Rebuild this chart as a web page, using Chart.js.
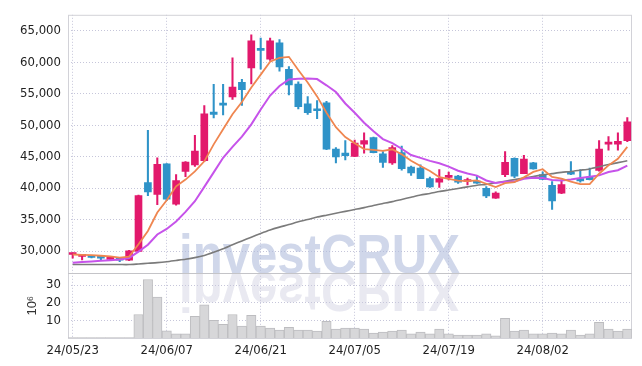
<!DOCTYPE html>
<html>
<head>
<meta charset="utf-8">
<script src="https://cdn.jsdelivr.net/npm/chart.js@4.4.1/dist/chart.umd.min.js"></script>
<style>
  html, body { margin: 0; padding: 0; background: #fff; }
</style>
</head>
<body>
<canvas id="stockChart" width="642" height="366"></canvas>
<script>
// trading days 24/05/23 .. 24/08/16
const dates = [
  '24/05/23','24/05/24','24/05/27','24/05/28','24/05/29','24/05/30','24/05/31','24/06/03','24/06/04','24/06/05',
  '24/06/07','24/06/10','24/06/11','24/06/12','24/06/13','24/06/14','24/06/17','24/06/18','24/06/19','24/06/20',
  '24/06/21','24/06/24','24/06/25','24/06/26','24/06/27','24/06/28','24/07/01','24/07/02','24/07/03','24/07/04',
  '24/07/05','24/07/08','24/07/09','24/07/10','24/07/11','24/07/12','24/07/15','24/07/16','24/07/17','24/07/18',
  '24/07/19','24/07/22','24/07/23','24/07/24','24/07/25','24/07/26','24/07/29','24/07/30','24/07/31','24/08/01',
  '24/08/02','24/08/05','24/08/06','24/08/07','24/08/08','24/08/09','24/08/12','24/08/13','24/08/14','24/08/16'
];

const opens = [29450,29150,29250,29100,28680,28840,28530,29950,40900,39000,
  43850,37450,42650,43700,44350,52100,53300,54500,56800,59100,
  62000,60500,63100,58900,56550,53400,52400,53550,46200,45550,
  45050,47000,48050,45450,44000,45650,43350,43200,41500,40950,
  41700,41900,41050,40900,39950,38400,42150,44750,42300,44000,
  42150,40450,39200,42350,41500,41750,42800,47000,47000,47550];
const highs = [29700,29450,29300,29150,29150,28900,30100,38900,49200,44800,
  43900,42150,44200,48400,53100,56500,56500,60700,57300,64350,
  63850,63850,63600,59300,56900,54550,53900,53800,46450,47550,
  47650,48800,48100,45800,46750,46700,43500,43700,41750,42950,
  42550,42050,41600,41900,40250,39400,45800,44800,45200,44100,
  42600,41050,41300,44200,42950,43200,47550,48200,48800,51200];
const lows = [28850,28600,28900,28600,28550,28320,28450,29900,38800,37350,
  38000,37300,41800,43450,44200,51150,51650,54100,53150,56550,
  58900,60300,58600,54800,52600,51700,51050,46100,44000,44500,
  45000,45550,45600,43300,43750,42850,42000,41500,40100,40100,
  41300,40750,40500,40750,38500,38350,41800,41650,42300,43000,
  41350,36600,39100,42150,40950,41300,42700,46050,46050,47400];
const closes = [29550,29250,29000,28850,29100,28530,30050,38800,39400,43800,
  38250,41200,44150,45900,51800,51700,53200,56050,55650,63400,
  61900,63400,59250,56400,52950,52000,52300,46200,44950,45150,
  47150,47550,45650,44100,46450,43100,42400,41500,40200,41500,
  41800,40950,41150,40800,38750,39200,44100,41900,44600,43050,
  41400,37950,40550,42200,41150,41350,46200,47200,47450,50550];

// volume, unit 10^6 shares
const volumes = [0.2,0.2,0.2,0.2,0.2,0.2,0.3,13.3,33.1,23.2,
  4.0,2.3,2.3,12.2,18.8,10.0,7.8,13.3,6.7,12.8,
  6.7,5.6,4.5,6.1,4.5,4.5,3.9,9.4,5.0,5.6,
  5.6,5.0,2.8,3.4,3.9,4.5,2.3,3.4,2.3,5.0,
  2.3,1.7,1.7,1.7,2.3,1.2,11.1,3.9,4.5,2.3,
  2.3,2.8,2.3,4.5,1.7,2.3,8.9,5.0,3.9,5.0];

// moving average lines
const ma5 = [29450,29400,29350,29250,29150,28950,29110,31070,33180,36120,
  38060,40290,41360,42660,44260,46950,49350,51730,53680,56000,
  58040,60080,60720,60870,58780,56800,54580,51970,49680,48120,
  47150,46200,46090,45920,46180,45370,44340,43510,42730,41740,
  41480,41190,41120,41240,40690,40170,40800,40950,41710,42570,
  43010,41780,41510,41030,40650,40640,42290,43620,44670,46550];
const ma10 = [28150,28250,28350,28450,28550,28650,28900,29900,31000,32625,
  33505,34700,36215,37920,40190,42505,44820,46545,48170,50130,
  52495,54715,56225,57275,57390,57420,57330,56345,55275,53450,
  51975,50390,49030,47800,47150,46260,45270,44800,44325,43960,
  43425,42765,42315,41985,41215,40825,40995,41035,41475,41630,
  41590,41290,41230,41360,41600,41815,42025,42555,42840,43590];
const maLong = [27850,27850,27850,27850,27850,27850,27850,27950,28050,28150,
  28300,28500,28700,28950,29300,29800,30350,31000,31600,32200,
  32800,33350,33800,34200,34650,35000,35400,35700,36000,36300,
  36600,36900,37250,37550,37850,38200,38550,38900,39150,39450,
  39700,39950,40200,40450,40600,40850,41100,41350,41600,41850,
  42100,42300,42500,42650,42850,43050,43400,43750,44050,44350];

const priceTicks = [30000, 35000, 40000, 45000, 50000, 55000, 60000, 65000];
const volumeTicks = [10, 20, 30];

const UP = '#e2196c';
const DOWN = '#2f93c8';
const GRID = '#c6c6da';

// narrow font if there is one, else condensed DejaVu a bit smaller
function pickTickFont() {
  const c = document.createElement('canvas').getContext('2d');
  c.font = "15px 'Liberation Sans Narrow', monospace";
  const a = c.measureText('65,000').width;
  c.font = '15px monospace';
  const b = c.measureText('65,000').width;
  if (a !== b) return { family: "'Liberation Sans Narrow', sans-serif", size: 15 };
  return { family: "'DejaVu Sans Condensed', 'DejaVu Sans', sans-serif", size: 13 };
}
const TICK_FONT = pickTickFont();

const candleColors = closes.map((c, i) => c >= opens[i] ? UP : DOWN);

// watermark + panel frame
const framePlugin = {
  id: 'frame',
  beforeDatasetsDraw(chart) {
    const ctx = chart.ctx;
    const area = chart.chartArea;
    const sep = chart.scales.y.bottom;
    ctx.save();
    ctx.beginPath();
    ctx.rect(area.left, area.top, area.right - area.left, area.bottom - area.top);
    ctx.clip();
    ctx.font = "bold 56px 'Liberation Sans', Arial, sans-serif";
    const text = 'investCRUX';
    const w = ctx.measureText(text).width;
    ctx.translate(179, sep);
    ctx.scale(281 / w, 1);
    ctx.fillStyle = 'rgba(176,188,220,0.6)';
    ctx.fillText(text, 0, 0);
    ctx.scale(1, -1);
    ctx.fillStyle = 'rgba(200,200,220,0.4)';
    ctx.fillText(text, 0, 0);
    ctx.restore();

    ctx.save();
    ctx.strokeStyle = '#d2d2d8';
    ctx.lineWidth = 1;
    ctx.strokeRect(area.left + 0.5, area.top + 0.5, area.right - area.left - 1, area.bottom - area.top);
    ctx.strokeStyle = '#c4c4c8';
    ctx.beginPath();
    ctx.moveTo(area.left, Math.round(sep) + 0.5);
    ctx.lineTo(area.right, Math.round(sep) + 0.5);
    ctx.stroke();
    ctx.restore();
  }
};

new Chart(document.getElementById('stockChart'), {
  type: 'bar',
  data: {
    labels: dates,
    datasets: [
      {
        type: 'line', label: 'MA5', data: ma5, yAxisID: 'y', order: 0,
        borderColor: '#ef8650', borderWidth: 1.8, pointRadius: 0, tension: 0
      },
      {
        type: 'line', label: 'MA10', data: ma10, yAxisID: 'y', order: 1,
        borderColor: '#c653ea', borderWidth: 2, pointRadius: 0, tension: 0
      },
      {
        type: 'line', label: 'MA60', data: maLong, yAxisID: 'y', order: 2,
        borderColor: '#7b7b7b', borderWidth: 1.6, pointRadius: 0, tension: 0.2
      },
      {
        label: 'body', data: opens.map((o, i) => [o, closes[i]]), yAxisID: 'y', order: 3,
        backgroundColor: candleColors, barThickness: 7, minBarLength: 2, grouped: false
      },
      {
        label: 'wick', data: lows.map((l, i) => [l, highs[i]]), yAxisID: 'y', order: 4,
        backgroundColor: candleColors, barThickness: 1.4, grouped: false
      },
      {
        label: 'volume', data: volumes, yAxisID: 'yv', order: 5,
        backgroundColor: '#d7d7d9', borderColor: '#bdbdc0', borderWidth: 1,
        barPercentage: 1, categoryPercentage: 1, grouped: false
      }
    ]
  },
  options: {
    responsive: false,
    animation: false,
    devicePixelRatio: 1,
    layout: { padding: { left: 0, right: 10, top: 9, bottom: 0 } },
    plugins: { legend: { display: false }, tooltip: { enabled: false } },
    scales: {
      x: {
        type: 'category',
        offset: true,
        grid: {
          offset: false,
          drawTicks: false,
          color: ctx => (ctx.index % 10 === 0 ? GRID : 'rgba(0,0,0,0)')
        },
        border: { display: false, dash: [1, 2] },
        ticks: {
          autoSkip: false, maxRotation: 0, padding: 5,
          color: '#222', font: TICK_FONT,
          callback: (v, i) => (i % 10 === 0 ? dates[i] : '')
        },
        afterFit: s => { s.height = 28; }
      },
      yv: {
        position: 'left', stack: 'panels', stackWeight: 1,
        min: 0, max: 36.6,
        afterBuildTicks: s => { s.ticks = volumeTicks.map(v => ({ value: v })); },
        grid: { drawTicks: false, color: GRID },
        border: { display: false, dash: [1, 2] },
        ticks: { autoSkip: false, padding: 7, color: '#222', font: TICK_FONT },
        title: {
          display: true, text: '10⁶', color: '#333',
          font: { family: "'Liberation Sans', sans-serif", size: 13 },
          padding: { top: 25, bottom: 0 }
        },
        afterFit: s => { s.width = 68; }
      },
      y: {
        position: 'left', stack: 'panels', stackWeight: 4,
        min: 26450, max: 67550,
        afterBuildTicks: s => { s.ticks = priceTicks.map(v => ({ value: v })); },
        grid: { drawTicks: false, color: GRID },
        border: { display: false, dash: [1, 2] },
        ticks: {
          autoSkip: false, padding: 7, color: '#222', font: TICK_FONT,
          callback: v => v.toLocaleString('en-US')
        },
        afterFit: s => { s.width = 68; }
      }
    }
  },
  plugins: [framePlugin]
});
</script>
</body>
</html>
